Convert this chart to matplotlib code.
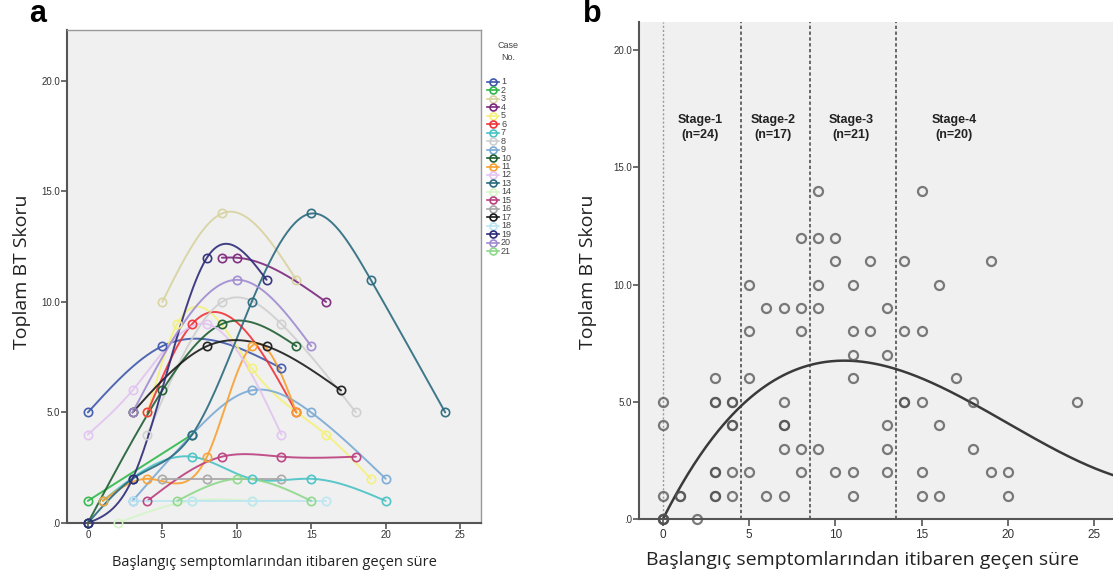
import numpy as np
import matplotlib
matplotlib.use("Agg")
import matplotlib.pyplot as plt

# ---------------- data ----------------
case_ids = list(range(1, 22))
case_colors = ['#3E58AC', '#2EB848', '#D8D3A0', '#7C287D', '#F5F07A', '#EF3338', '#48C2C5',
               '#CFCFCF', '#7AAAD5', '#1E5E32', '#F8A030', '#E2C4F0', '#2A6A7E', '#D6F5C8',
               '#BB3F7F', '#A8A8A8', '#1A1A1A', '#BCE6F2', '#2E2C78', '#A08BD0', '#8ED88A']

case_x = [
    [0, 5, 13],
    [0, 7],
    [5, 9, 14],
    [9, 10, 16],
    [4, 6, 11, 16, 19],
    [4, 7, 14],
    [1, 7, 11, 15, 20],
    [4, 9, 13, 18],
    [3, 7, 11, 15, 20],
    [0, 5, 9, 14],
    [1, 4, 8, 11, 14],
    [0, 3, 8, 13],
    [0, 3, 7, 11, 15, 19, 24],
    [2, 7, 11],
    [4, 9, 13, 18],
    [5, 8, 13],
    [3, 8, 12, 17],
    [3, 7, 11, 16],
    [0, 3, 8, 12],
    [3, 10, 15],
    [6, 10, 15],
]
case_y = [
    [5, 8, 7],
    [1, 4],
    [10, 14, 11],
    [12, 12, 10],
    [5, 9, 7, 4, 2],
    [5, 9, 5],
    [1, 3, 2, 2, 1],
    [4, 10, 9, 5],
    [1, 4, 6, 5, 2],
    [0, 6, 9, 8],
    [1, 2, 3, 8, 5],
    [4, 6, 9, 4],
    [0, 2, 4, 10, 14, 11, 5],
    [0, 1, 1],
    [1, 3, 3, 3],
    [2, 2, 2],
    [5, 8, 8, 6],
    [1, 1, 1, 1],
    [0, 2, 12, 11],
    [5, 11, 8],
    [1, 2, 1],
]

# panel b scatter (time, score)
b_x = [0, 0, 0, 0, 0, 0, 1, 1, 2, 3, 3, 3, 3, 3, 3, 3, 4, 4, 4, 4, 4, 4,
       5, 5, 5, 5, 6, 6, 7, 7, 7, 7, 7, 7, 8, 8, 8, 8, 8,
       9, 9, 9, 9, 9, 10, 10, 10, 11, 11, 11, 11, 11, 11, 12, 12, 13, 13, 13, 13, 13,
       14, 14, 14, 14, 15, 15, 15, 15, 15, 16, 16, 16, 17, 18, 18, 19, 19, 20, 20, 24]
b_y = [0, 0, 0, 1, 4, 5, 1, 1, 0, 1, 1, 2, 2, 5, 5, 6, 1, 2, 4, 5, 5, 4,
       2, 6, 8, 10, 1, 9, 1, 3, 4, 4, 5, 9, 2, 3, 8, 9, 12,
       3, 9, 10, 12, 14, 2, 11, 12, 1, 2, 6, 7, 8, 10, 8, 11, 2, 3, 4, 7, 9,
       5, 5, 8, 11, 1, 2, 5, 8, 14, 1, 4, 10, 6, 3, 5, 2, 11, 1, 2, 5]

stage_bounds = [0, 4.5, 8.5, 13.5]
stage_labels = ['Stage-1\n(n=24)', 'Stage-2\n(n=17)', 'Stage-3\n(n=21)', 'Stage-4\n(n=20)']
stage_label_x = [2.15, 6.4, 10.9, 16.9]

# cubic fit line coefficients (y = a x + b x^2 + c x^3)
fit_coef = [0.0, 1.4583, -0.0941, 0.001570]

x_ticks = [0, 5, 10, 15, 20, 25]
y_ticks = [0, 5, 10, 15, 20]
y_tick_labels = ['.0', '5.0', '10.0', '15.0', '20.0']

ylabel_text = 'Toplam BT Skoru'
xlabel_text = 'Başlangıç semptomlarından itibaren geçen süre'


def natural_spline(xs, ys, num=200):
    xs = np.asarray(xs, float)
    ys = np.asarray(ys, float)
    n = len(xs)
    if n < 3:
        t = np.linspace(xs[0], xs[-1], num)
        return t, np.interp(t, xs, ys)
    h = np.diff(xs)
    A = np.zeros((n, n))
    r = np.zeros(n)
    A[0, 0] = 1
    A[-1, -1] = 1
    for i in range(1, n - 1):
        A[i, i - 1] = h[i - 1]
        A[i, i] = 2 * (h[i - 1] + h[i])
        A[i, i + 1] = h[i]
        r[i] = 6 * ((ys[i + 1] - ys[i]) / h[i] - (ys[i] - ys[i - 1]) / h[i - 1])
    M = np.linalg.solve(A, r)
    t = np.linspace(xs[0], xs[-1], num)
    idx = np.clip(np.searchsorted(xs, t) - 1, 0, n - 2)
    x0, x1 = xs[idx], xs[idx + 1]
    hh = x1 - x0
    a = (x1 - t) / hh
    b = (t - x0) / hh
    y = (a * ys[idx] + b * ys[idx + 1]
         + ((a ** 3 - a) * M[idx] + (b ** 3 - b) * M[idx + 1]) * hh ** 2 / 6)
    return t, y


W, H = 1113, 579
fig = plt.figure(figsize=(W / 100, H / 100), dpi=100)
fig.patch.set_facecolor('white')


def px_axes(left, top, right, bottom):
    return fig.add_axes([left / W, 1 - bottom / H, (right - left) / W, (bottom - top) / H])


label_font = 'Open Sans'
bg = '#F0F0F0'

# ---------------- panel a ----------------
axa = px_axes(67, 30, 481, 523)
axa.set_facecolor(bg)
axa.set_xlim(-1.4, 26.4)
axa.set_ylim(0, 22.3)
for cx, cy, col in zip(case_x, case_y, case_colors):
    t, s = natural_spline(cx, cy)
    axa.plot(t, s, color=col, lw=1.4, alpha=0.9, solid_capstyle='round', zorder=2)
    axa.plot(cx, cy, 'o', ms=6, mfc='none', mec=col, mew=1.2, alpha=0.95, zorder=3,
             clip_on=False)
axa.set_xticks(x_ticks)
axa.set_yticks(y_ticks)
axa.set_yticklabels(y_tick_labels)
axa.tick_params(axis='both', direction='out', length=4, width=1.2, colors='#555',
                labelsize=7, labelcolor='#333', pad=1)
for lab in axa.get_xticklabels() + axa.get_yticklabels():
    lab.set_family('Liberation Sans')
for sp in axa.spines.values():
    sp.set_color('#999')
    sp.set_linewidth(1.0)
axa.spines['left'].set_color('#555')
axa.spines['bottom'].set_color('#555')
axa.spines['left'].set_linewidth(1.5)
axa.spines['bottom'].set_linewidth(1.5)
fig.text(22 / W, 1 - 272 / H, ylabel_text, rotation=90, ha='center', va='center',
         fontsize=14, family=label_font, color='#222')
fig.text(274 / W, 1 - 562 / H, xlabel_text, ha='center', va='center',
         fontsize=10.5, family=label_font, color='#222')
fig.text(38 / W, 1 - 14 / H, 'a', ha='center', va='center', fontsize=22,
         fontweight='bold', family='Liberation Sans')

# legend
lax = px_axes(482, 30, 540, 270)
lax.set_xlim(482, 540)
lax.set_ylim(270, 30)
lax.axis('off')
lax.text(508, 45, 'Case', ha='center', va='center', fontsize=6.5, color='#444',
         family='Liberation Sans')
lax.text(508, 57, 'No.', ha='center', va='center', fontsize=6.5, color='#444',
         family='Liberation Sans')
for i, (cid, col) in enumerate(zip(case_ids, case_colors)):
    yy = 82 + i * 8.45
    lax.plot([487, 499], [yy, yy], color=col, lw=1.2)
    lax.plot([493], [yy], 'o', ms=5, mfc='none', mec=col, mew=1.2)
    lax.text(501, yy, str(cid), ha='left', va='center', fontsize=6.5, color='#444',
             family='Liberation Sans')

# ---------------- panel b ----------------
axb = px_axes(639, 22, 1125, 519)
axb.set_facecolor(bg)
axb.set_xlim(-1.39, 26.8)
axb.set_ylim(0, 21.2)
for i, xb in enumerate(stage_bounds):
    if i == 0:
        axb.axvline(xb, color='#9a9a9a', lw=1.0, ls=(0, (1.5, 1.5)), zorder=1)
    else:
        axb.axvline(xb, color='#505050', lw=1.2, ls=(0, (2, 1.5)), zorder=1)
for lx, lab in zip(stage_label_x, stage_labels):
    axb.text(lx, 16.7, lab, ha='center', va='center', fontsize=9, fontweight='bold',
             family='Liberation Sans', color='#222', linespacing=1.25)
xs = np.linspace(0, 26.8, 300)
ys = np.polyval(fit_coef[::-1], xs)
axb.plot(xs, ys, color='#3a3a3a', lw=1.8, zorder=2)
axb.plot(b_x, b_y, 'o', ms=6.5, mfc='none', mec='#505050', mew=1.6, alpha=0.75,
         zorder=3, clip_on=False)
axb.set_xticks(x_ticks)
axb.set_yticks(y_ticks)
axb.set_yticklabels(y_tick_labels)
axb.tick_params(axis='y', direction='out', length=4, width=1.2, colors='#555',
                labelsize=7, labelcolor='#333', pad=1)
axb.tick_params(axis='x', direction='out', length=5, width=1.2, colors='#555',
                labelsize=8.5, labelcolor='#333', pad=2)
for lab in axb.get_xticklabels() + axb.get_yticklabels():
    lab.set_family('Liberation Sans')
for name, sp in axb.spines.items():
    sp.set_color('#555')
    sp.set_linewidth(1.5)
axb.spines['top'].set_visible(False)
axb.spines['right'].set_visible(False)
fig.text(588 / W, 1 - 272 / H, ylabel_text, rotation=90, ha='center', va='center',
         fontsize=14, family=label_font, color='#222')
fig.text(863 / W, 1 - 560 / H, xlabel_text, ha='center', va='center',
         fontsize=14, family=label_font, color='#222')
fig.text(592 / W, 1 - 14 / H, 'b', ha='center', va='center', fontsize=22,
         fontweight='bold', family='Liberation Sans')

fig.savefig('out.png', dpi=100)
